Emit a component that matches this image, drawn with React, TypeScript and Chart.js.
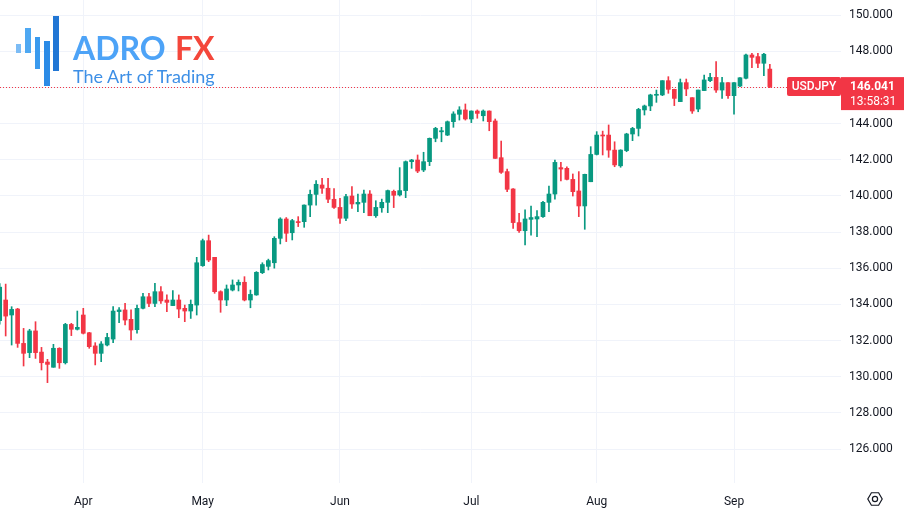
import React, { useEffect, useRef } from 'react';
import { Chart, registerables } from 'chart.js';

Chart.register(...registerables);

// ---- Data (USDJPY daily, 14 Mar – 11 Sep 2023) ----
const opens = [
  133.1, 134.24, 133.41, 133.74, 131.84, 131.33, 132.53, 131.36, 130.81, 130.52,
  131.57, 130.77, 132.89, 132.62, 133.41, 132.43, 131.7, 131.29, 131.75, 132.08,
  133.6, 133.69, 133.17, 132.6, 133.78, 134.42, 134.05, 134.7, 134.24, 133.93,
  134.24, 133.78, 133.63, 133.96, 136.14, 137.52, 136.6, 134.7, 134.24, 134.79,
  135.07, 135.22, 134.24, 134.52, 135.75, 136.1, 136.3, 137.65, 138.72, 137.96,
  138.57, 138.57, 139.49, 140.08, 140.6, 140.42, 139.81, 139.36, 138.76, 139.99,
  139.55, 139.64, 140.1, 138.9, 139.34, 139.64, 140.25, 140.05, 140.29, 141.89,
  141.98, 141.43, 141.89, 143.18, 143.54, 143.36, 144.1, 144.51, 144.75, 144.25,
  144.69, 144.43, 144.69, 144.14, 142.11, 141.34, 140.38, 138.52, 138.07, 138.7,
  138.72, 138.85, 139.64, 140.1, 141.56, 141.52, 140.91, 140.27, 139.44, 140.78,
  142.29, 143.36, 143.36, 142.53, 141.66, 142.5, 143.42, 143.73, 144.75, 144.97,
  145.56, 145.58, 146.37, 145.89, 145.21, 146.26, 145.43, 144.8, 145.82, 146.37,
  146.55, 145.85, 146.26, 145.54, 146.07, 146.5, 147.79, 147.7, 147.33, 147.01,
];
const highs = [
  135.15, 135.12, 133.87, 133.78, 132.67, 132.62, 133.04, 131.62, 130.96, 131.79,
  131.6, 132.95, 132.95, 133.63, 133.78, 132.45, 131.88, 131.94, 132.4, 133.87,
  133.82, 134.05, 133.69, 133.96, 134.61, 134.61, 135.16, 134.98, 134.52, 134.76,
  134.52, 133.96, 134.24, 136.6, 137.61, 137.83, 136.6, 134.75, 135.07, 135.35,
  135.35, 135.53, 134.79, 135.81, 136.3, 136.5, 137.74, 138.79, 138.8, 138.7,
  138.85, 139.5, 140.32, 140.84, 140.97, 140.97, 140.4, 139.86, 140.08, 140.51,
  140.1, 140.32, 140.29, 139.73, 139.82, 140.32, 140.32, 141.56, 141.93, 142.02,
  142.26, 142.41, 143.2, 143.79, 143.79, 144.14, 144.65, 144.93, 145.08, 144.7,
  144.75, 144.75, 144.7, 144.25, 143.03, 141.48, 140.4, 139.03, 139.22, 139.44,
  139.18, 139.7, 140.54, 141.98, 141.85, 141.61, 141.21, 141.34, 141.2, 142.72,
  143.55, 143.58, 143.92, 142.99, 142.55, 143.46, 143.79, 144.84, 145.02, 145.62,
  145.85, 146.37, 146.59, 145.9, 146.46, 146.46, 145.43, 145.85, 146.68, 146.77,
  147.42, 146.55, 146.26, 146.27, 146.54, 147.84, 147.88, 147.88, 147.88, 147.27,
];
const lows = [
  132.9, 132.25, 131.75, 131.62, 130.59, 131.05, 131.01, 130.37, 129.67, 130.52,
  130.46, 130.7, 132.27, 132.58, 132.36, 131.57, 130.65, 130.83, 131.7, 131.88,
  132.99, 132.86, 132.03, 132.4, 133.74, 133.87, 133.87, 134.05, 133.59, 133.93,
  133.26, 133.04, 133.22, 133.41, 136.1, 136.36, 134.61, 133.56, 133.93, 134.74,
  134.74, 134.19, 133.81, 134.5, 135.7, 135.9, 136.0, 137.34, 137.47, 137.56,
  138.3, 138.26, 138.85, 139.49, 140.14, 139.62, 139.31, 138.48, 138.63, 139.31,
  139.13, 139.07, 138.9, 138.81, 139.09, 139.07, 139.35, 139.99, 139.9, 141.52,
  141.28, 141.34, 141.67, 142.99, 142.99, 143.33, 143.79, 144.19, 144.19, 144.05,
  144.29, 144.14, 143.6, 142.07, 141.24, 140.23, 138.2, 137.98, 137.28, 137.83,
  137.74, 138.8, 139.13, 139.81, 140.82, 140.88, 139.99, 138.85, 138.15, 140.78,
  142.26, 142.26, 142.13, 141.61, 141.58, 142.44, 143.05, 143.31, 144.47, 144.71,
  145.17, 145.54, 145.67, 144.99, 145.21, 145.54, 144.56, 144.65, 145.82, 146.31,
  145.72, 145.39, 145.39, 144.51, 146.04, 146.46, 147.09, 147.09, 146.65, 145.98,
];
const closes = [
  134.95, 133.35, 133.72, 131.84, 131.29, 132.53, 131.33, 130.77, 130.68, 131.57,
  130.77, 132.89, 132.62, 132.73, 132.4, 131.66, 131.29, 131.81, 132.17, 133.63,
  133.69, 133.13, 132.58, 133.78, 134.42, 134.05, 134.7, 134.19, 134.11, 134.24,
  133.74, 133.63, 134.0, 136.3, 137.52, 136.45, 134.7, 134.24, 134.85, 135.07,
  135.22, 134.24, 134.55, 135.77, 136.2, 136.42, 137.65, 138.72, 137.93, 138.63,
  138.52, 139.49, 140.08, 140.64, 140.42, 139.81, 139.36, 138.76, 139.96, 139.55,
  139.64, 140.1, 138.9, 139.36, 139.64, 140.29, 140.03, 140.29, 141.89, 141.98,
  141.37, 141.89, 143.18, 143.73, 143.6, 144.1, 144.53, 144.75, 144.25, 144.69,
  144.56, 144.69, 144.1, 142.07, 141.3, 140.36, 138.52, 138.07, 138.72, 138.8,
  138.85, 139.64, 140.1, 141.85, 141.48, 140.91, 140.23, 139.44, 141.19, 142.29,
  143.36, 143.31, 142.53, 141.71, 142.53, 143.42, 143.73, 144.78, 144.97, 145.58,
  145.61, 146.37, 145.89, 145.39, 146.26, 145.91, 144.69, 145.85, 146.41, 146.55,
  145.85, 146.26, 145.54, 146.26, 146.53, 147.79, 147.66, 147.33, 147.83, 146.04,
];
const monthTickIndex = [14, 34, 57, 79, 100, 123];
const monthLabels = ['Apr', 'May', 'Jun', 'Jul', 'Aug', 'Sep'];
const lastPrice = 146.041;
const symbol = 'USDJPY';
const countdown = '13:58:31';

const UP = '#089981';
const DOWN = '#f23645';
const GRID = '#f0f3fa';
const TEXT = '#131722';
const FONT = 'Roboto, "Noto Sans", sans-serif';

const overlayPlugin = {
  id: 'tvOverlay',
  beforeDatasetsDraw(chart: any) {
    const { ctx, scales } = chart;
    const y = Math.round(scales.y.getPixelForValue(lastPrice)) + 0.5;
    ctx.save();
    ctx.strokeStyle = DOWN;
    ctx.lineWidth = 1;
    ctx.setLineDash([1, 2]);
    ctx.beginPath();
    ctx.moveTo(0, y);
    ctx.lineTo(787, y);
    ctx.stroke();
    ctx.restore();
  },
  afterDraw(chart: any) {
    const { ctx, scales, chartArea } = chart;
    const py = scales.y.getPixelForValue(lastPrice);
    ctx.save();
    // symbol label
    ctx.fillStyle = DOWN;
    const sx = 787, sw = chartArea.right - 787, sTop = py - 9.5, sh = 19;
    ctx.beginPath();
    (ctx as any).roundRect ? ctx.roundRect(sx, sTop, sw, sh, 2) : ctx.rect(sx, sTop, sw, sh);
    ctx.fill();
    ctx.fillStyle = '#ffffff';
    ctx.font = `500 12px ${FONT}`;
    ctx.textAlign = 'center';
    ctx.textBaseline = 'middle';
    ctx.fillText(symbol, sx + sw / 2, py + 0.5);
    // price label
    const px = chartArea.right;
    ctx.fillStyle = DOWN;
    ctx.fillRect(px, py - 9.5, chart.width - px, 33);
    ctx.fillStyle = '#ffffff';
    ctx.textAlign = 'left';
    ctx.font = `bold 12px ${FONT}`;
    ctx.fillText(lastPrice.toFixed(3), px + 9, py + 0.5);
    ctx.font = `12px ${FONT}`;
    ctx.fillText(countdown, px + 9, py + 15);
    // settings icon
    const cx = 875, cy = 499, r = 7.2;
    ctx.strokeStyle = TEXT;
    ctx.lineWidth = 1.2;
    ctx.beginPath();
    for (let k = 0; k < 6; k++) {
      const a = (Math.PI / 3) * k;
      const xx = cx + r * Math.cos(a);
      const yy = cy + r * Math.sin(a);
      if (k === 0) ctx.moveTo(xx, yy); else ctx.lineTo(xx, yy);
    }
    ctx.closePath();
    ctx.stroke();
    ctx.beginPath();
    ctx.arc(cx, cy, 2.6, 0, Math.PI * 2);
    ctx.stroke();
    ctx.restore();
  },
};

function Logo() {
  const bars = [
    { left: 16, top: 44, w: 5, h: 9, c: '#7cbcf5' },
    { left: 25, top: 28, w: 6, h: 25, c: '#4ea8f2' },
    { left: 35, top: 37, w: 5, h: 32, c: '#3a9aee' },
    { left: 44, top: 41, w: 6, h: 45, c: '#2b8be6' },
    { left: 53, top: 16, w: 6, h: 55, c: '#2176d4' },
  ];
  return (
    <div style={{ position: 'absolute', left: 0, top: 0, width: 230, height: 100, pointerEvents: 'none' }}>
      {bars.map((b, i) => (
        <div key={i} style={{ position: 'absolute', left: b.left, top: b.top, width: b.w, height: b.h, background: b.c }} />
      ))}
      <div style={{ position: 'absolute', left: 73, top: 31.5, font: '700 32px Lato, sans-serif', lineHeight: '32px', color: '#4da3f7', whiteSpace: 'nowrap' }}>ADRO</div>
      <div style={{ position: 'absolute', left: 175, top: 31.5, font: '700 32px Lato, sans-serif', lineHeight: '32px', color: '#f4473b', whiteSpace: 'nowrap' }}>FX</div>
      <div style={{ position: 'absolute', left: 73, top: 67, font: '400 18px Lato, sans-serif', lineHeight: '18px', color: '#3d8fe6', whiteSpace: 'nowrap' }}>The Art of Trading</div>
    </div>
  );
}

export default function App() {
  const ref = useRef<HTMLCanvasElement | null>(null);

  useEffect(() => {
    document.body.style.margin = '0';
    const canvas = ref.current;
    if (!canvas) return;
    const colors = opens.map((o, i) => (closes[i] >= o ? UP : DOWN));
    const bodies = opens.map((o, i) => ({ x: i, y: [o, closes[i]] }));
    const wicks = opens.map((_, i) => ({ x: i, y: [lows[i], highs[i]] }));

    const chart = new Chart(canvas, {
      type: 'bar',
      data: {
        datasets: [
          {
            label: 'body',
            data: bodies as any,
            backgroundColor: colors,
            barThickness: 4,
            grouped: false,
            minBarLength: 1,
            borderWidth: 0,
          } as any,
          {
            label: 'wick',
            data: wicks as any,
            backgroundColor: colors,
            barThickness: 1,
            grouped: false,
            borderWidth: 0,
          } as any,
        ],
      },
      options: {
        responsive: false,
        animation: false,
        devicePixelRatio: 1,
        layout: { padding: 0 },
        plugins: { legend: { display: false }, tooltip: { enabled: false } },
        scales: {
          x: {
            type: 'linear',
            min: 0.05,
            max: 140.92,
            offset: false,
            afterBuildTicks: (s: any) => {
              s.ticks = monthTickIndex.map((v) => ({ value: v }));
            },
            afterFit: (s: any) => {
              s.height = 43;
              s.paddingLeft = 0;
              s.paddingRight = 0;
            },
            ticks: {
              autoSkip: false,
              maxRotation: 0,
              padding: 12,
              color: TEXT,
              font: { family: FONT, size: 12 },
              callback: (_v: any, idx: number) => monthLabels[idx],
            },
            grid: { color: GRID, drawTicks: false, offset: false },
            border: { display: false },
          } as any,
          y: {
            position: 'right',
            min: 124.12,
            max: 150.83,
            afterFit: (s: any) => {
              s.width = 63;
              s.paddingTop = 0;
              s.paddingBottom = 0;
            },
            ticks: {
              stepSize: 2,
              includeBounds: false,
              padding: 8,
              color: TEXT,
              font: { family: FONT, size: 12 },
              callback: (v: any) => Number(v).toFixed(3),
            },
            grid: { color: GRID, drawTicks: false },
            border: { display: false },
          } as any,
        },
      },
      plugins: [overlayPlugin],
    });
    return () => chart.destroy();
  }, []);

  return (
    <div style={{ position: 'relative', width: 904, height: 526, background: '#ffffff', overflow: 'hidden' }}>
      <canvas ref={ref} width={904} height={526} style={{ display: 'block', width: 904, height: 526 }} />
      <Logo />
    </div>
  );
}
